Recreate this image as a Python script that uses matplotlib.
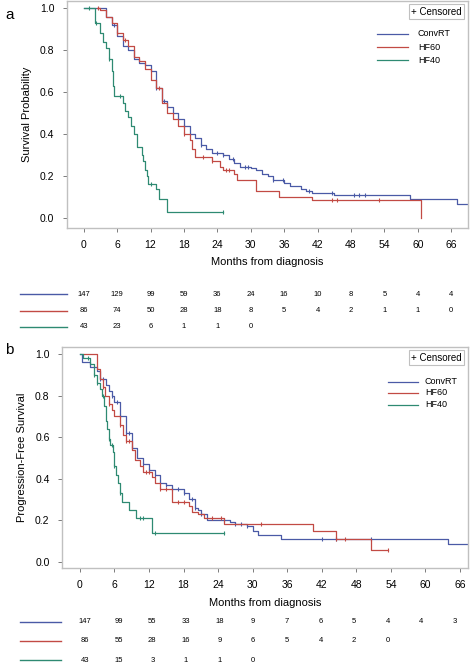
import matplotlib
matplotlib.use("Agg")
import matplotlib.pyplot as plt
import numpy as np

plt.rcParams['font.family'] = ['Liberation Sans Narrow', 'Liberation Sans', 'DejaVu Sans']

groups = ["ConvRT", "HF60", "HF40"]
colors = ["#4a5aa6", "#c24a44", "#2e8a72"]
month_ticks = [0, 6, 12, 18, 24, 30, 36, 42, 48, 54, 60, 66]
y_ticks = [0.0, 0.2, 0.4, 0.6, 0.8, 1.0]

# ---- Panel a: overall survival (step points: time, survival) ----
os_conv_t = [0, 2.5, 4, 5, 6, 7, 8, 9, 10, 11, 12, 13, 14, 15, 16, 17, 18, 19, 20, 21, 22, 23, 25, 26, 27, 28, 30, 31, 32, 33, 34, 36, 37, 39, 40, 41, 45, 58.5, 67, 69]
os_conv_s = [1.0, 1.0, 0.96, 0.92, 0.87, 0.82, 0.80, 0.76, 0.74, 0.73, 0.70, 0.62, 0.56, 0.53, 0.50, 0.47, 0.44, 0.40, 0.38, 0.35, 0.33, 0.31, 0.30, 0.28, 0.26, 0.245, 0.24, 0.23, 0.21, 0.20, 0.18, 0.165, 0.15, 0.14, 0.13, 0.12, 0.11, 0.09, 0.065, 0.065]
os_conv_c = [5.5, 13, 14.5, 18, 21, 24, 25, 26.8, 29, 29.5, 34, 35.8, 40.5, 44.5, 48.5, 49.5, 50.5]

os_hf60_t = [2.3, 3, 4, 5, 6, 7, 8, 9, 10, 11, 12, 13, 14, 15, 16, 17, 18, 19, 19.5, 20, 23, 24.5, 25, 27, 27.5, 31, 35, 41, 60.5]
os_hf60_s = [1.0, 0.99, 0.96, 0.93, 0.88, 0.85, 0.82, 0.77, 0.75, 0.71, 0.66, 0.62, 0.55, 0.50, 0.47, 0.44, 0.40, 0.37, 0.33, 0.29, 0.27, 0.245, 0.23, 0.21, 0.18, 0.13, 0.10, 0.085, 0.0]
os_hf60_c = [2.5, 6, 7.5, 13.5, 18, 21.5, 23, 25.5, 26, 44.5, 45.5, 53]

os_hf40_t = [0, 2, 3, 3.5, 4, 4.5, 5, 5.2, 5.5, 7, 7.5, 8, 8.5, 9, 9.5, 10.5, 10.7, 11, 11.3, 11.5, 13, 13.5, 15, 25]
os_hf40_s = [1.0, 0.93, 0.88, 0.84, 0.81, 0.76, 0.70, 0.63, 0.58, 0.55, 0.51, 0.48, 0.44, 0.40, 0.34, 0.30, 0.27, 0.23, 0.20, 0.16, 0.14, 0.09, 0.03, 0.03]
os_hf40_c = [1, 2.2, 4.6, 6.5, 12, 25]

# ---- Panel b: progression-free survival ----
pfs_conv_t = [0, 0.3, 1.8, 3, 3.5, 4.5, 5, 5.5, 6, 7, 8, 9, 10, 11, 12, 13, 14, 15, 16, 18, 19, 20, 20.5, 21, 22, 26, 27, 29, 30, 31, 35, 64, 68]
pfs_conv_s = [1.0, 0.96, 0.94, 0.92, 0.88, 0.85, 0.82, 0.80, 0.77, 0.70, 0.62, 0.55, 0.50, 0.47, 0.44, 0.42, 0.38, 0.37, 0.35, 0.33, 0.30, 0.26, 0.25, 0.23, 0.20, 0.19, 0.18, 0.17, 0.15, 0.13, 0.11, 0.085, 0.085]
pfs_conv_c = [3.5, 4, 5.5, 6.5, 7, 8, 8.5, 9, 11, 12, 13, 15, 16, 17, 18, 19.5, 20, 21, 25, 27, 28, 29, 42, 44.5, 50.5]

pfs_hf60_t = [0.5, 3, 3.5, 4, 4.3, 5, 5.5, 6, 7, 7.5, 8, 9, 9.5, 10.5, 11, 12.5, 13, 14, 16, 19, 19.5, 20.5, 21.5, 25, 40.5, 44.5, 50.5, 53.5]
pfs_hf60_s = [1.0, 0.93, 0.88, 0.84, 0.80, 0.76, 0.73, 0.70, 0.66, 0.61, 0.58, 0.54, 0.49, 0.46, 0.43, 0.41, 0.38, 0.35, 0.29, 0.27, 0.24, 0.23, 0.21, 0.18, 0.15, 0.11, 0.055, 0.055]
pfs_hf60_c = [4, 5, 7, 8, 8.5, 11.5, 12, 14, 15, 17, 18, 23, 24.5, 31.5, 44.5, 46, 53.5]

pfs_hf40_t = [0, 0.5, 1.8, 2.5, 3, 3.5, 3.8, 4.2, 4.5, 4.8, 5, 5.3, 5.7, 6, 6.3, 6.7, 7, 7.3, 8.5, 9.8, 12.5, 25]
pfs_hf40_s = [1.0, 0.98, 0.95, 0.90, 0.86, 0.83, 0.80, 0.75, 0.68, 0.64, 0.59, 0.56, 0.53, 0.46, 0.42, 0.38, 0.33, 0.29, 0.25, 0.21, 0.14, 0.14]
pfs_hf40_c = [1.5, 2.5, 3, 4, 5, 5.5, 6, 7, 10.5, 11, 13, 25]

# ---- Numbers at risk ----
risk_a_conv = [147, 129, 99, 59, 36, 24, 16, 10, 8, 5, 4, 4]
risk_a_hf60 = [86, 74, 50, 28, 18, 8, 5, 4, 2, 1, 1, 0]
risk_a_hf40 = [43, 23, 6, 1, 1, 0]
risk_b_conv = [147, 99, 55, 33, 18, 9, 7, 6, 5, 4, 4, 3]
risk_b_hf60 = [86, 55, 28, 16, 9, 6, 5, 4, 2, 0]
risk_b_hf40 = [43, 15, 3, 1, 1, 0]

W, H = 472, 663
fig = plt.figure(figsize=(W / 100, H / 100), dpi=100)


def rect(l, r, t, b):
    return [l / W, 1 - b / H, (r - l) / W, (b - t) / H]


def km(ax, t, s, c, color):
    ax.step(t, s, where='post', color=color, lw=0.9)
    t = np.asarray(t); s = np.asarray(s)
    cy = [s[np.searchsorted(t, x, side='right') - 1] for x in c]
    ax.plot(c, cy, ls='none', marker='|', ms=3.5, mew=0.8, color=color)


def panel(ax, series, ylabel, xlim, ylim):
    for (t, s, c), col in zip(series, colors):
        km(ax, t, s, c, col)
    ax.set_xlim(*xlim)
    ax.set_ylim(*ylim)
    ax.set_xticks(month_ticks)
    ax.set_yticks(y_ticks)
    ax.set_yticklabels([f"{v:.1f}" for v in y_ticks])
    ax.tick_params(labelsize=7.5, length=3, width=0.6, color='#666666', pad=6)
    for sp in ax.spines.values():
        sp.set_color('#c0c0c0')
        sp.set_linewidth(1.0)
    ax.set_ylabel(ylabel, fontsize=8, labelpad=6)
    ax.text(0.985, 0.975, "+ Censored", transform=ax.transAxes, ha='right', va='top', fontsize=7,
            bbox=dict(boxstyle='square,pad=0.25', fc='white', ec='#c0c0c0', lw=0.8))


def legend(ax, x0, x1, xt, ys):
    for g, col, y in zip(groups, colors, ys):
        ax.plot([x0, x1], [y, y], color=col, lw=0.9, transform=ax.transAxes)
        ax.text(xt, y, g, transform=ax.transAxes, fontsize=6.5, va='center', ha='left')


# panel a
axa = fig.add_axes(rect(67, 468, 1, 228))
panel(axa, [(os_conv_t, os_conv_s, os_conv_c), (os_hf60_t, os_hf60_s, os_hf60_c),
            (os_hf40_t, os_hf40_s, os_hf40_c)], "Survival Probability", (-3, 69), (-0.048, 1.035))
legend(axa, 0.773, 0.85, 0.875, [0.855, 0.797, 0.74])

# panel b
axb = fig.add_axes(rect(62, 468, 347, 568))
panel(axb, [(pfs_conv_t, pfs_conv_s, pfs_conv_c), (pfs_hf60_t, pfs_hf60_s, pfs_hf60_c),
            (pfs_hf40_t, pfs_hf40_s, pfs_hf40_c)], "Progression-Free Survival", (-3.1, 67.4), (-0.03, 1.034))
legend(axb, 0.803, 0.877, 0.894, [0.842, 0.792, 0.738])

fig.text(5 / W, 1 - 15 / H, "a", fontsize=11, va='center', ha='left')
fig.text(5 / W, 1 - 350 / H, "b", fontsize=11, va='center', ha='left')
fig.text((67 + 468) / 2 / W, 1 - 262 / H, "Months from diagnosis", fontsize=8, ha='center', va='center')
fig.text((62 + 468) / 2 / W, 1 - 603 / H, "Months from diagnosis", fontsize=8, ha='center', va='center')


def risk_table(l, r, t, b, xlim, rows, line_x):
    ax = fig.add_axes(rect(l, r, t, b))
    ax.set_xlim(*xlim)
    ax.set_ylim(len(rows) - 0.5, -0.5)
    ax.axis('off')
    for i, (vals, col) in enumerate(zip(rows, colors)):
        for m, v in zip(month_ticks, vals):
            ax.text(m, i, str(v), fontsize=5.5, ha='center', va='center')
        ax.plot(line_x, [i, i], color=col, lw=1.0, clip_on=False)
    return ax


risk_table(67, 468, 286, 335, (-3, 69),
           [risk_a_conv, risk_a_hf60, risk_a_hf40], [-11.4, -3.0])
risk_table(67, 468, 612, 670, (-3.21, 68.3),
           [risk_b_conv, risk_b_hf60, risk_b_hf40], [-11.6, -4.3])

fig.savefig("out.png", dpi=100)
